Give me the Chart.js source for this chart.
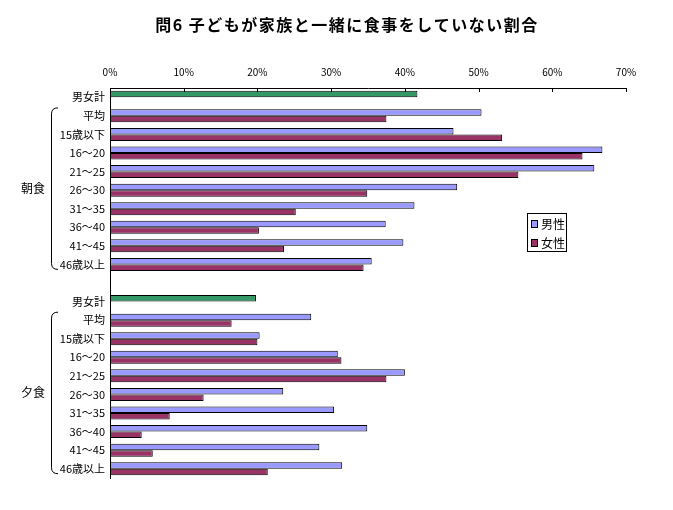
<!DOCTYPE html>
<html>
<head>
<meta charset="utf-8">
<script src="https://cdn.jsdelivr.net/npm/chart.js@4.4.0/dist/chart.umd.min.js"></script>
<style>
  html, body { margin: 0; padding: 0; background: #fff; }
  #wrap { width: 673px; height: 510px; position: relative; }
</style>
</head>
<body>
<div id="wrap"><canvas id="chart"></canvas></div>
<script>
const titleText = '問6 子どもが家族と一緒に食事をしていない割合';
const totalLabel = '男女計';
const ageGroups = ['平均', '15歳以下', '16〜20', '21〜25', '26〜30', '31〜35', '36〜40', '41〜45', '46歳以上'];
const mealLabels = ['朝食', '夕食'];
const seriesNames = ['男性', '女性'];

const breakfastTotal = 41.7;
const breakfastMale = [50.4, 46.6, 66.8, 65.7, 47.1, 41.3, 37.4, 39.8, 35.5];
const breakfastFemale = [37.5, 53.2, 64.1, 55.4, 34.9, 25.2, 20.2, 23.6, 34.4];

const dinnerTotal = 19.8;
const dinnerMale = [27.3, 20.3, 30.9, 40.0, 23.5, 30.4, 34.9, 28.4, 31.5];
const dinnerFemale = [16.5, 20.0, 31.4, 37.5, 12.7, 8.1, 4.3, 5.8, 21.4];

const xMax = 70;
const xStep = 10;

const maleColor = '#9999FF';
const femaleColor = '#993366';
const totalColor = '#339966';
const FONT = '"Noto Sans CJK JP", "Noto Sans", sans-serif';

// rows: total, ages..., blank, total, ages...
const labels = [totalLabel, ...ageGroups, '', totalLabel, ...ageGroups];
const maleData = [breakfastTotal, ...breakfastMale, null, dinnerTotal, ...dinnerMale];
const femaleData = [null, ...breakfastFemale, null, null, ...dinnerFemale];
const totalRows = [0, ageGroups.length + 2];
const groups = [
  { label: mealLabels[0], first: 1, last: ageGroups.length },
  { label: mealLabels[1], first: ageGroups.length + 3, last: ageGroups.length * 2 + 2 }
];

const decorations = {
  id: 'decorations',
  afterDraw(chart) {
    const ctx = chart.ctx;
    const x = chart.scales.x;
    const y = chart.scales.y;
    const area = chart.chartArea;
    ctx.save();

    // title
    ctx.fillStyle = '#000';
    ctx.font = 'bold 16px ' + FONT;
    ctx.letterSpacing = '1.5px';
    ctx.textAlign = 'center';
    ctx.textBaseline = 'middle';
    ctx.fillText(titleText, 347, 25);
    ctx.letterSpacing = '0px';

    // inner tick marks on top axis
    ctx.strokeStyle = '#000';
    ctx.lineWidth = 1;
    for (let v = xStep; v <= xMax; v += xStep) {
      const px = Math.round(x.getPixelForValue(v)) + 0.5;
      ctx.beginPath();
      ctx.moveTo(px, area.top);
      ctx.lineTo(px, area.top + 4);
      ctx.stroke();
    }

    // braces and meal labels
    ctx.font = '12px ' + FONT;
    groups.forEach(g => {
      const top = y.getPixelForValue(g.first) - 8;
      const bottom = y.getPixelForValue(g.last) + 5;
      const bx = 51.5;
      ctx.beginPath();
      ctx.moveTo(58, top);
      ctx.quadraticCurveTo(bx, top, bx, top + 6);
      ctx.lineTo(bx, bottom - 6);
      ctx.quadraticCurveTo(bx, bottom, 58, bottom);
      ctx.stroke();
      ctx.fillText(g.label, 33, (top + bottom) / 2);
    });

    // legend
    const lx = 527, ly = 213, lw = 39, lh = 38;
    ctx.strokeRect(lx + 0.5, ly + 0.5, lw, lh);
    ctx.textAlign = 'left';
    chart.data.datasets.forEach((ds, i) => {
      const cy = ly + 11 + i * 19;
      ctx.fillStyle = i === 0 ? maleColor : femaleColor;
      ctx.fillRect(lx + 4, cy - 4, 7, 8);
      ctx.strokeRect(lx + 4.5, cy - 3.5, 6, 7);
      ctx.fillStyle = '#000';
      ctx.fillText(ds.label, lx + 14, cy);
    });
    ctx.restore();
  }
};

new Chart(document.getElementById('chart'), {
  type: 'bar',
  data: {
    labels: labels,
    datasets: [
      {
        label: seriesNames[0],
        data: maleData,
        backgroundColor: c => (c.type === 'data' && totalRows.includes(c.dataIndex)) ? totalColor : maleColor,
        borderColor: '#000',
        borderWidth: 1,
        borderSkipped: false
      },
      {
        label: seriesNames[1],
        data: femaleData,
        backgroundColor: femaleColor,
        borderColor: '#000',
        borderWidth: 1,
        borderSkipped: false
      }
    ]
  },
  options: {
    indexAxis: 'y',
    responsive: true,
    maintainAspectRatio: false,
    animation: false,
    layout: { padding: { left: 0, top: 0, right: 47, bottom: 32 } },
    datasets: { bar: { categoryPercentage: 0.7, barPercentage: 1 } },
    plugins: {
      legend: { display: false },
      title: { display: false },
      tooltip: { enabled: false }
    },
    scales: {
      x: {
        position: 'top',
        min: 0,
        max: xMax,
        grid: { display: false, drawTicks: false },
        border: { display: true, color: '#000', width: 1 },
        ticks: {
          stepSize: xStep,
          padding: 10,
          color: '#000',
          font: { family: FONT, size: 10 },
          callback: v => v + '%'
        },
        afterFit: s => { s.height = 88; }
      },
      y: {
        grid: { display: false, drawTicks: false },
        border: { display: true, color: '#000', width: 1 },
        ticks: {
          autoSkip: false,
          padding: 5,
          color: '#000',
          font: { family: FONT, size: 11 }
        },
        afterFit: s => { s.width = 110; }
      }
    }
  },
  plugins: [decorations]
});
</script>
</body>
</html>
